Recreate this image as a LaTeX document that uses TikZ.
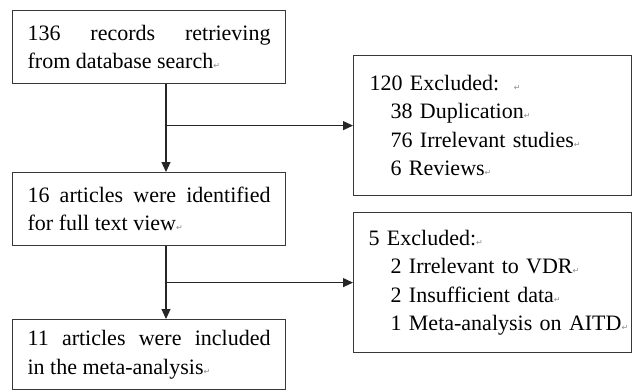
\documentclass[tikz,border=0pt]{standalone}
\usepackage{fontspec}
\setmainfont{Liberation Serif}
\newfontfamily\symfont{DejaVu Sans}
\usetikzlibrary{arrows.meta}
\newcommand{\retmark}{{\symfont\fontsize{8}{8}\selectfont\textcolor{black!45}{↵}}}
\begin{document}
\begin{tikzpicture}[x=1pt,y=-1pt,
  box/.style={draw=black!78, line width=1.2pt, inner sep=0pt, anchor=north west,
    font=\fontsize{22}{28.5}\selectfont},
  leftbox/.style={box, text width=243pt, align=justify, minimum width=273pt},
  rightbox/.style={box, text width=262pt, align=left, minimum width=278pt},
  conn/.style={draw=black!85, line width=1.2pt, -{Triangle[length=10pt,width=9pt]}}]
\useasboundingbox (0,0) rectangle (632,391);
\clip (0,0) rectangle (632,391);

\node[leftbox, minimum height=73pt] (b1) at (12,10)
  {136 records retrieving\linebreak from database search\retmark};
\node[rightbox, minimum height=140pt] (b2) at (353,55)
  {\mbox{\hspace*{8pt}120 Excluded:\ \ \retmark}\\
   \mbox{\hspace*{29pt}38 Duplication\retmark}\\
   \mbox{\hspace*{29pt}76 Irrelevant studies\retmark}\\
   \mbox{\hspace*{29pt}6 Reviews\retmark}};
\node[leftbox, minimum height=73pt] (b3) at (12,172)
  {16 articles were identified\linebreak for full text view\retmark};
\node[rightbox, minimum height=140pt] (b4) at (353,212)
  {\mbox{\hspace*{7pt}5 Excluded:\retmark}\\
   \mbox{\hspace*{29pt}2 Irrelevant to VDR\retmark}\\
   \mbox{\hspace*{29pt}2 Insufficient data\retmark}\\
   \mbox{\hspace*{29pt}1 Meta-analysis on AITD\retmark}};
\node[leftbox, minimum height=70pt] (b5) at (12,319)
  {11 articles were included\linebreak in the meta-analysis\retmark};

\coordinate (v) at (166,0);
\draw[conn] (v |- b1.south) -- (v |- b3.north);
\draw[conn] (v |- b2.west) -- (b2.west);
\draw[conn] (v |- b3.south) -- (v |- b5.north);
\draw[conn] (v |- b4.west) -- (b4.west);
\end{tikzpicture}
\end{document}
